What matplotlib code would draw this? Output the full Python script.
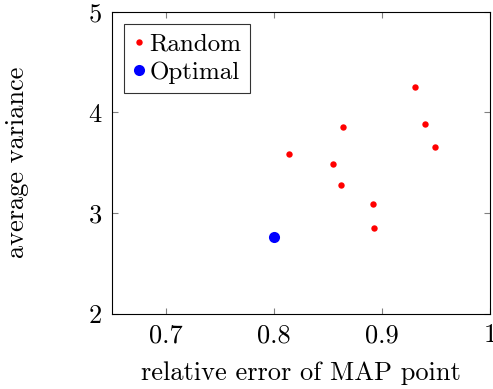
import matplotlib
matplotlib.use("Agg")
import matplotlib.pyplot as plt

plt.rcParams["font.family"] = "cmr10"
plt.rcParams["mathtext.fontset"] = "cm"
plt.rcParams["axes.formatter.use_mathtext"] = True
plt.rcParams["axes.unicode_minus"] = False

# data
random_err = [0.814, 0.864, 0.855, 0.862, 0.892, 0.893, 0.931, 0.940, 0.949]
random_var = [3.584, 3.855, 3.485, 3.277, 3.091, 2.850, 4.252, 3.889, 3.660]
optimal_err = [0.800]
optimal_var = [2.767]

x_ticks = [0.7, 0.8, 0.9, 1.0]
x_tick_labels = ["0.7", "0.8", "0.9", "1"]
y_ticks = [2, 3, 4, 5]

fig = plt.figure(figsize=(4.93, 3.89), dpi=100)
ax = fig.add_axes([0.2266, 0.193, 0.9939 - 0.2266, 0.970 - 0.193])

ax.plot(random_err, random_var, "o", color="red", markersize=4.6, markeredgewidth=0, label="Random")
ax.plot(optimal_err, optimal_var, "o", color="blue", markersize=8, markeredgewidth=0, label="Optimal")

ax.set_xlim(0.65, 1.0)
ax.set_ylim(2, 5)
ax.set_xticks(x_ticks)
ax.set_xticklabels(x_tick_labels)
ax.set_yticks(y_ticks)
ax.tick_params(direction="in", length=4, width=0.8, color="gray", labelsize=19,
               top=True, right=True, pad=7)
for s in ax.spines.values():
    s.set_linewidth(0.8)

ax.set_xlabel("relative error of MAP point", fontsize=19, labelpad=10)
ax.set_ylabel("average variance", fontsize=19, labelpad=42)

leg = ax.legend(loc="upper left", fontsize=18, frameon=True, fancybox=False,
                edgecolor="black", handlelength=0.5, handletextpad=0.15,
                borderpad=0.35, labelspacing=0.25, borderaxespad=0.5)
leg.get_frame().set_linewidth(0.8)

fig.savefig("out.png", dpi=100)
